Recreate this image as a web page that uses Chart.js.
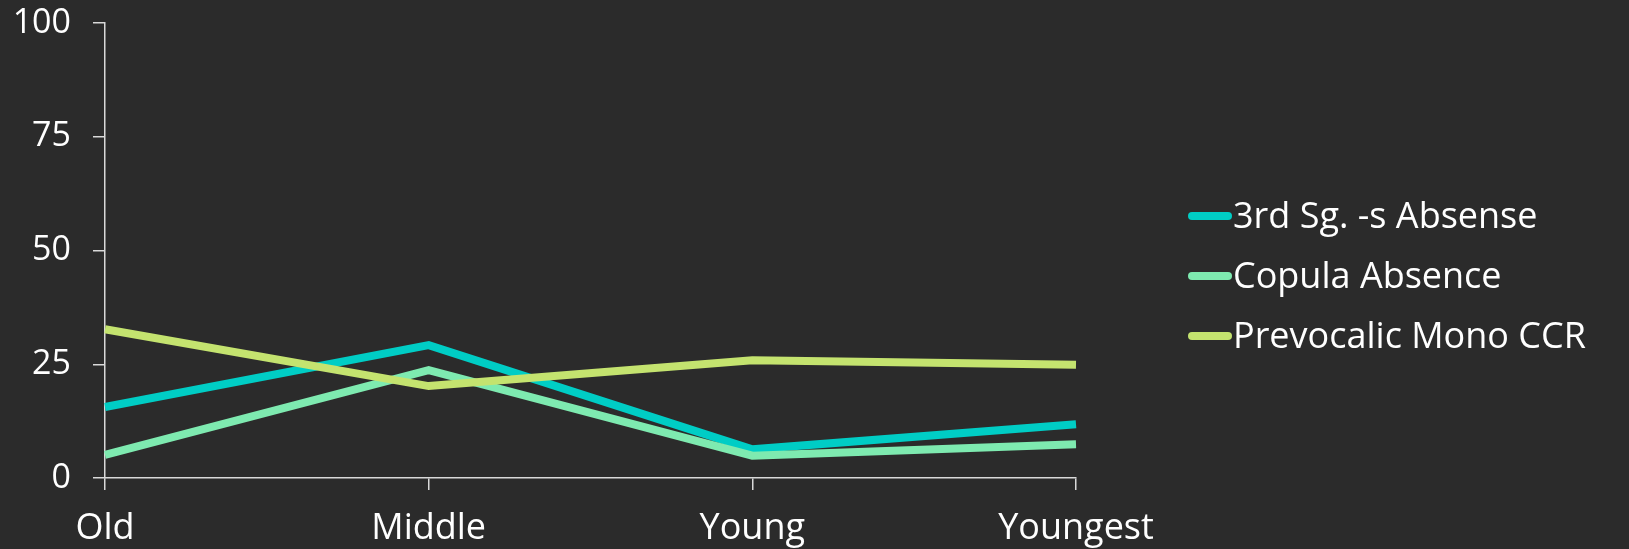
<!DOCTYPE html>
<html>
<head>
<meta charset="utf-8">
<script src="https://cdn.jsdelivr.net/npm/chart.js@4/dist/chart.umd.min.js"></script>
<style>
    html, body { margin: 0; padding: 0; background: #2b2b2b; }
    #wrap { width: 1629px; height: 549px; }
</style>
</head>
<body>
<div id="wrap"><canvas id="lineChart" width="1629" height="549"></canvas></div>
<script>
// data
const categories = ["Old", "Middle", "Young", "Youngest"];
const seriesNames = ["3rd Sg. -s Absense", "Copula Absence", "Prevocalic Mono CCR"];
const thirdSgAbsence = [15.6, 29.2, 6.3, 11.8];
const copulaAbsence = [5.1, 23.7, 4.9, 7.4];
const prevocalicMonoCcr = [32.7, 20.2, 25.9, 24.9];
const yTickValues = [0, 25, 50, 75, 100];

const seriesColors = ["#00cdc5", "#7eeab0", "#c4e36f"];
const FONT = "'Open Sans', 'DejaVu Sans', sans-serif";

// legend drawn by hand so the swatch sits right against the text
const sideLegend = {
    id: "sideLegend",
    afterDraw(chart) {
        const ctx = chart.ctx;
        const x0 = 1188, lineLen = 44, rowY = [216, 276, 336];
        ctx.save();
        ctx.font = "36px " + FONT;
        ctx.textBaseline = "middle";
        ctx.fillStyle = "#ffffff";
        chart.data.datasets.forEach((ds, i) => {
            ctx.strokeStyle = ds.borderColor;
            ctx.lineWidth = 8;
            ctx.lineCap = "round";
            ctx.beginPath();
            ctx.moveTo(x0 + 4, rowY[i]);
            ctx.lineTo(x0 + lineLen - 4, rowY[i]);
            ctx.stroke();
            ctx.fillText(ds.label, x0 + lineLen + 1, rowY[i] + 2);
        });
        ctx.restore();
    }
};

const datasets = [thirdSgAbsence, copulaAbsence, prevocalicMonoCcr].map((vals, i) => ({
    label: seriesNames[i],
    data: vals,
    borderColor: seriesColors[i],
    backgroundColor: seriesColors[i],
    borderWidth: 8,
    borderJoinStyle: "miter",
    borderCapStyle: "butt",
    pointRadius: 0,
    tension: 0,
    order: 2 - i
}));

new Chart(document.getElementById("lineChart"), {
    type: "line",
    data: { labels: categories, datasets: datasets },
    plugins: [sideLegend],
    options: {
        responsive: false,
        animation: false,
        layout: { padding: { left: 0, right: 553, top: 23, bottom: 0 } },
        plugins: {
            legend: { display: false },
            tooltip: { enabled: false }
        },
        scales: {
            x: {
                offset: false,
                grid: { drawOnChartArea: false, drawTicks: true, tickLength: 12, color: "#d9d9d9", lineWidth: 1.5 },
                border: { color: "#d9d9d9", width: 1.5 },
                ticks: { color: "#ffffff", font: { family: FONT, size: 36 }, padding: 17, maxRotation: 0 },
                afterFit: (scale) => { scale.height = 71; scale.paddingLeft = 0; }
            },
            y: {
                min: 0,
                max: 100,
                afterBuildTicks: (scale) => { scale.ticks = yTickValues.map(v => ({ value: v })); },
                grid: { drawOnChartArea: false, drawTicks: true, tickLength: 12, color: "#d9d9d9", lineWidth: 1.5 },
                border: { color: "#d9d9d9", width: 1.5 },
                ticks: { color: "#ffffff", font: { family: FONT, size: 34 }, padding: 22 },
                afterFit: (scale) => { scale.width = 105; scale.paddingTop = 0; scale.paddingBottom = 0; }
            }
        }
    }
});
</script>
</body>
</html>
